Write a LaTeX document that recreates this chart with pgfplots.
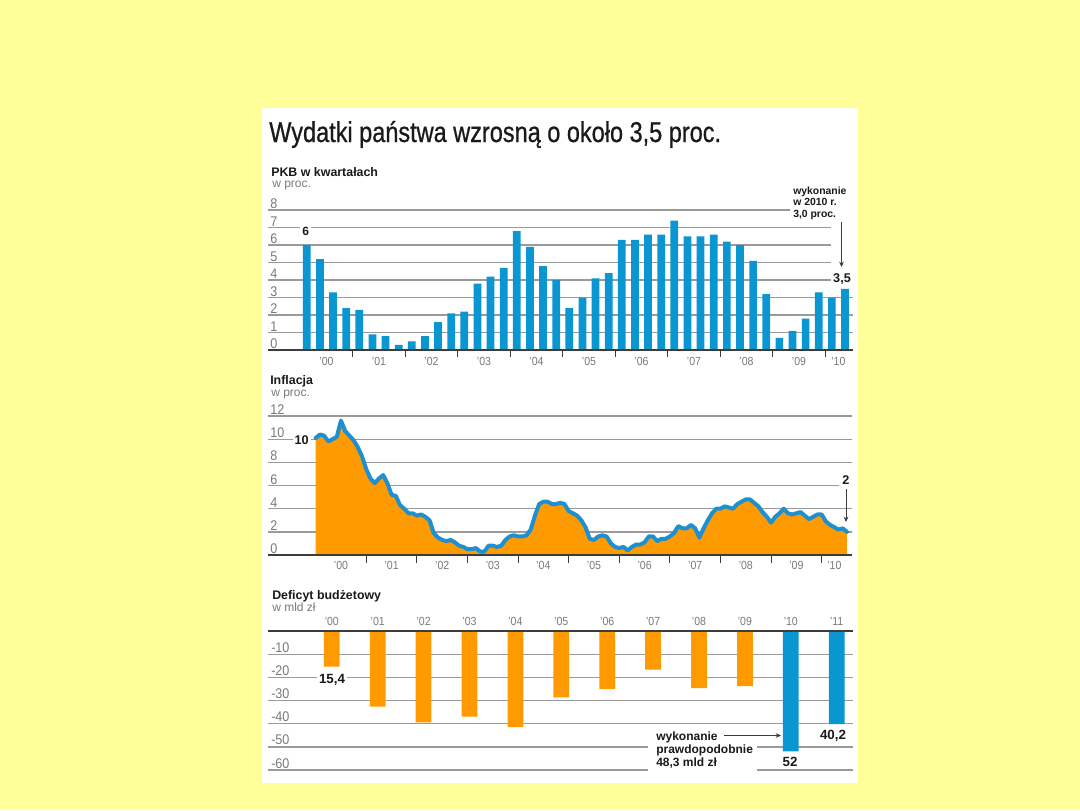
\documentclass[border=0pt]{standalone}
\usepackage{pgfplots}
\pgfplotsset{compat=1.18}
\usepackage{pgfplotstable}
\usepackage{fontspec}
\usetikzlibrary{arrows.meta}
\setmainfont{Liberation Sans}
\newfontfamily\titlefont[FakeStretch=0.82,FakeBold=0.7]{Liberation Sans}
\newfontfamily\tickfont[FakeStretch=0.9]{Liberation Sans}
\definecolor{bgyellow}{HTML}{FFFF99}
\definecolor{barblue}{HTML}{0A96D0}
\definecolor{lineblue}{HTML}{1E90D0}
\definecolor{fillorange}{HTML}{FF9A00}
\definecolor{gridgray}{HTML}{9A9A9A}
\definecolor{ticktext}{HTML}{7A7A7A}
\definecolor{basedark}{HTML}{3C3C3C}
\definecolor{textdark}{HTML}{1A1A1A}

% PKB, quarterly, 2000Q1 .. 2010Q2
\pgfplotstableread{
i v
0 6.0
1 5.2
2 3.3
3 2.4
4 2.3
5 0.9
6 0.8
7 0.3
8 0.5
9 0.8
10 1.6
11 2.1
12 2.2
13 3.8
14 4.2
15 4.7
16 6.8
17 5.9
18 4.8
19 4.0
20 2.4
21 3.0
22 4.1
23 4.4
24 6.3
25 6.3
26 6.6
27 6.6
28 7.4
29 6.5
30 6.5
31 6.6
32 6.2
33 6.0
34 5.1
35 3.2
36 0.7
37 1.1
38 1.8
39 3.3
40 3.0
41 3.5
}\pkb

% Inflation, monthly, Jan 2000 .. Jul 2010
\pgfplotstableread{
m v
0 10.1
1 10.4
2 10.3
3 9.8
4 10.0
5 10.2
6 11.6
7 10.7
8 10.3
9 9.9
10 9.3
11 8.5
12 7.4
13 6.6
14 6.2
15 6.6
16 6.9
17 6.2
18 5.2
19 5.1
20 4.3
21 4.0
22 3.6
23 3.6
24 3.4
25 3.5
26 3.3
27 3.0
28 1.9
29 1.5
30 1.3
31 1.2
32 1.3
33 1.1
34 0.8
35 0.7
36 0.5
37 0.5
38 0.6
39 0.3
40 0.3
41 0.8
42 0.8
43 0.7
44 0.8
45 1.3
46 1.6
47 1.7
48 1.6
49 1.6
50 1.7
51 2.2
52 3.4
53 4.4
54 4.6
55 4.6
56 4.4
57 4.4
58 4.5
59 4.4
60 3.8
61 3.6
62 3.4
63 3.0
64 2.4
65 1.4
66 1.3
67 1.6
68 1.7
69 1.6
70 1.0
71 0.7
72 0.6
73 0.7
74 0.4
75 0.7
76 0.9
77 0.9
78 1.1
79 1.6
80 1.6
81 1.2
82 1.4
83 1.4
84 1.6
85 1.9
86 2.5
87 2.3
88 2.3
89 2.6
90 2.3
91 1.5
92 2.3
93 3.0
94 3.6
95 4.0
96 4.0
97 4.2
98 4.1
99 4.0
100 4.4
101 4.6
102 4.8
103 4.8
104 4.5
105 4.2
106 3.7
107 3.3
108 2.8
109 3.3
110 3.6
111 4.0
112 3.6
113 3.5
114 3.6
115 3.7
116 3.4
117 3.1
118 3.3
119 3.5
120 3.5
121 2.9
122 2.6
123 2.4
124 2.2
125 2.3
126 2.0
}\infl

% Budget deficit, bln zl
\pgfplotstableread{
k v
0 -15.4
1 -32.6
2 -39.4
3 -37.0
4 -41.5
5 -28.6
6 -25.1
7 -16.7
8 -24.6
9 -23.8
}\defa
\pgfplotstableread{
k v
10 -52.0
11 -40.2
}\defb

\begin{document}
\begin{tikzpicture}
\begin{scope}[x=0.75pt,y=-0.75pt]
\useasboundingbox (0,0) rectangle (1080,810);
\fill[bgyellow] (0,0) rectangle (1080,810);
\fill[white] (262,108) rectangle (858,783);
% gridlines
\foreach \v in {1,...,8} \draw[gridgray, line width=1pt] (268,{350-17.5*\v}) -- (853,{350-17.5*\v});
\foreach \v in {2,4,...,12} \draw[gridgray, line width=1pt] (268,{555-11.583*\v}) -- (852,{555-11.583*\v});
\foreach \v in {10,20,...,60} \draw[gridgray, line width=1pt] (268,{631+2.3167*\v}) -- (853,{631+2.3167*\v});
\end{scope}

% ---------- PKB ----------
\begin{axis}[at={(201pt,-262.5pt)}, anchor=south west, scale only axis,
  width=438.75pt, height=105pt, xmin=-2.956, xmax=41.61, ymin=0, ymax=8,
  hide axis, clip=false]
\addplot[ybar, bar width=5.8pt, bar shift=0pt, fill=barblue, draw=none] table[x=i,y=v]{\pkb};
\end{axis}

% ---------- Inflacja ----------
\begin{axis}[at={(201pt,-416.25pt)}, anchor=south west, scale only axis,
  width=438pt, height=104.25pt, xmin=-11.31, xmax=127.2, ymin=0, ymax=12,
  hide axis, clip=false]
\addplot[fill=fillorange, draw=none] table[x=m,y=v]{\infl} \closedcycle;
\addplot[lineblue, line width=3pt, line join=round, line cap=round] table[x=m,y=v]{\infl};
\end{axis}

% ---------- Deficyt ----------
\begin{axis}[at={(201pt,-577.5pt)}, anchor=south west, scale only axis,
  width=438.75pt, height=104.25pt, xmin=-1.39, xmax=11.355, ymin=-60, ymax=0,
  hide axis, clip=false]
\addplot[ybar, bar width=11.8pt, bar shift=0pt, fill=fillorange, draw=none] table[x=k,y=v]{\defa};
\addplot[ybar, bar width=11.8pt, bar shift=0pt, fill=barblue, draw=none] table[x=k,y=v]{\defb};
\end{axis}

\begin{scope}[x=0.75pt,y=-0.75pt]
% white patches interrupting grid lines
\fill[white] (790,200) rectangle (858,215);
\fill[white] (831,215) rectangle (858,285);
\fill[white] (839,481) rectangle (858,489);
\fill[white] (648,728) rectangle (757,773);
% baselines
\draw[basedark, line width=1.5pt] (268,350) -- (853,350);
\draw[basedark, line width=1.5pt] (268,555) -- (852,555);
\draw[basedark, line width=1.5pt] (268,631) -- (853,631);
% year ticks
\foreach \x in {352.7,405.2,457.7,510.2,562.7,615.2,667.7,720.2,772.7,825.2}
  \draw[basedark, line width=0.8pt] (\x,350) -- (\x,356.5);
\foreach \x in {366.3,416.9,467.5,518.1,568.7,619.3,669.9,720.5,771.1,821.7}
  \draw[basedark, line width=0.8pt] (\x,555) -- (\x,562.5);

% title
\node[anchor=base west, inner sep=0, text=textdark] at (269,142) {\titlefont\fontsize{21.5}{24}\selectfont Wydatki państwa wzrosną o około 3,5 proc.};

% section headings
\node[anchor=base west, inner sep=0, text=textdark] at (271,176) {\bfseries\fontsize{9.3}{11}\selectfont PKB w kwartałach};
\node[anchor=base west, inner sep=0, text=ticktext] at (272,187) {\fontsize{9}{11}\selectfont w proc.};
\node[anchor=base west, inner sep=0, text=textdark] at (270,384) {\bfseries\fontsize{9.3}{11}\selectfont Inflacja};
\node[anchor=base west, inner sep=0, text=ticktext] at (271,396) {\fontsize{9}{11}\selectfont w proc.};
\node[anchor=base west, inner sep=0, text=textdark] at (272,599) {\bfseries\fontsize{9.3}{11}\selectfont Deficyt budżetowy};
\node[anchor=base west, inner sep=0, text=ticktext] at (272,611) {\fontsize{9}{11}\selectfont w mld zł};

% y tick labels
\foreach \v in {0,...,8}
  \node[anchor=base west, inner sep=0, text=ticktext] at (270,{350-17.5*\v-1.5}) {\tickfont\fontsize{10.5}{12}\selectfont \v};
\foreach \v in {0,2,...,12}
  \node[anchor=base west, inner sep=0, text=ticktext] at (270,{555-11.583*\v-1.5}) {\tickfont\fontsize{10.5}{12}\selectfont \v};
\foreach \v in {10,20,...,60}
  \node[anchor=base west, inner sep=0, text=ticktext] at (271,{631+2.3167*\v-2}) {\tickfont\fontsize{10.5}{12}\selectfont -\v};

% x (year) labels
\foreach \k/\l in {0/00,1/01,2/02,3/03,4/04,5/05,6/06,7/07,8/08,9/09}
  \node[anchor=base, inner sep=0, text=ticktext] at ({326.5+52.5*\k},365.5) {\tickfont\fontsize{8.8}{10}\selectfont ’\l};
\node[anchor=base, inner sep=0, text=ticktext] at (838.4,365.5) {\tickfont\fontsize{8.8}{10}\selectfont ’10};
\foreach \k/\l in {0/00,1/01,2/02,3/03,4/04,5/05,6/06,7/07,8/08,9/09}
  \node[anchor=base, inner sep=0, text=ticktext] at ({341+50.6*\k},569.5) {\tickfont\fontsize{8.8}{10}\selectfont ’\l};
\node[anchor=base, inner sep=0, text=ticktext] at (834.4,569.5) {\tickfont\fontsize{8.8}{10}\selectfont ’10};
\foreach \k/\l in {0/00,1/01,2/02,3/03,4/04,5/05,6/06,7/07,8/08,9/09,10/10,11/11}
  \node[anchor=base, inner sep=0, text=ticktext] at ({331.8+45.9*\k},625.7) {\tickfont\fontsize{8.8}{10}\selectfont ’\l};

% annotations: PKB
\node[anchor=base, fill=white, inner sep=1.5pt, text=textdark] at (305.7,235) {\bfseries\fontsize{9}{10}\selectfont 6};
\node[anchor=base west, inner sep=0, text=textdark] at (793,194) {\bfseries\fontsize{7.8}{9}\selectfont wykonanie};
\node[anchor=base west, inner sep=0, text=textdark] at (793,205.5) {\bfseries\fontsize{7.8}{9}\selectfont w 2010 r.};
\node[anchor=base west, inner sep=0, text=textdark] at (793,217) {\bfseries\fontsize{7.8}{9}\selectfont 3,0 proc.};
\draw[basedark, line width=0.6pt, -{Stealth[length=4pt,width=3.5pt]}] (841.5,222) -- (841.5,267);
\node[anchor=base, fill=white, inner sep=1pt, text=textdark] at (842,282) {\bfseries\fontsize{9.5}{10}\selectfont 3,5};

% annotations: inflation
\node[anchor=base east, fill=white, inner sep=1.5pt, text=textdark] at (311,444) {\bfseries\fontsize{9.5}{10}\selectfont 10};
\node[anchor=base, inner sep=0.5pt, fill=white, text=textdark] at (846,484) {\bfseries\fontsize{9.5}{10}\selectfont 2};
\draw[basedark, line width=0.6pt, -{Stealth[length=4pt,width=3.5pt]}] (846,489) -- (846,522);

% annotations: deficit
\node[anchor=base, fill=white, inner sep=1.5pt, text=textdark] at (332,683) {\bfseries\fontsize{10}{11}\selectfont 15,4};
\node[anchor=base west, inner sep=0, text=textdark] at (656,740) {\bfseries\fontsize{9}{10}\selectfont wykonanie};
\node[anchor=base west, inner sep=0, text=textdark] at (656,753) {\bfseries\fontsize{9}{10}\selectfont prawdopodobnie};
\node[anchor=base west, inner sep=0, text=textdark] at (656,766) {\bfseries\fontsize{9}{10}\selectfont 48,3 mld zł};
\draw[basedark, line width=0.6pt, -{Stealth[length=4pt,width=3.5pt]}] (724,735.5) -- (781,735.5);
\node[anchor=base, inner sep=0, text=textdark] at (790,766.5) {\bfseries\fontsize{10}{11}\selectfont 52};
\node[anchor=base, inner sep=0, text=textdark] at (833,739.3) {\bfseries\fontsize{10}{11}\selectfont 40,2};
\end{scope}
\end{tikzpicture}
\end{document}
